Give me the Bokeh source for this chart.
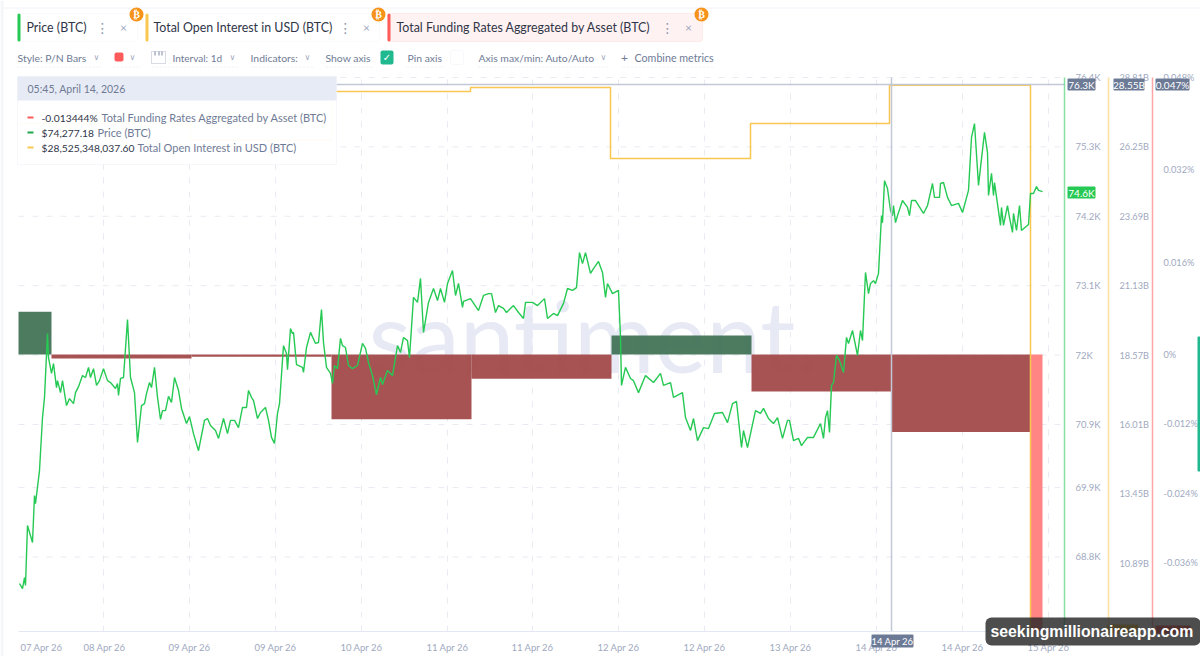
from bokeh.embed import file_html
from bokeh.models import BoxAnnotation, FixedTicker, Label, LinearAxis, Range1d
from bokeh.plotting import figure
from bokeh.resources import INLINE

# Time is counted in samples since the start of the chart (140 samples = 1 day)
price_t = [1, 4, 6, 7, 9, 14, 16, 17, 21, 24, 26, 29, 30, 33, 35, 38, 39, 42, 44, 48,
           51, 55, 57, 60, 64, 67, 70, 72, 75, 78, 81, 85, 89, 92, 97, 99, 100, 102, 105, 109,
           112, 116, 119, 123, 126, 128, 131, 133, 136, 139, 142, 144, 147, 150, 153, 156, 160, 163, 168, 171,
           175, 180, 184, 186, 189, 192, 197, 200, 205, 209, 212, 216, 220, 224, 228, 230, 233, 235, 239, 242,
           247, 250, 253, 256, 259, 261, 265, 268, 269, 272, 274, 275, 278, 284, 285, 288, 292, 297, 300, 303,
           305, 308, 312, 314, 316, 319, 322, 324, 327, 330, 334, 339, 344, 347, 350, 354, 358, 362, 364, 369,
           374, 379, 382, 385, 389, 391, 395, 399, 402, 405, 410, 415, 419, 422, 426, 429, 434, 437, 440, 444,
           445, 452, 460, 465, 470, 473, 477, 480, 485, 488, 495, 500, 505, 507, 514, 519, 526, 529, 535, 539,
           545, 549, 554, 558, 561, 564, 567, 572, 575, 580, 584, 587, 589, 594, 600, 602, 603, 607, 612, 615,
           620, 627, 635, 642, 645, 652, 655, 664, 667, 672, 675, 679, 685, 690, 696, 704, 709, 714, 718, 723,
           725, 729, 737, 742, 745, 750, 755, 759, 764, 769, 771, 775, 780, 783, 789, 795, 802, 805, 807, 809,
           811, 813, 815, 818, 821, 825, 828, 830, 834, 839, 842, 844, 847, 850, 852, 855, 857, 860, 863, 864,
           866, 869, 872, 874, 875, 877, 879, 884, 889, 891, 893, 897, 905, 909, 914, 916, 921, 922, 925, 929,
           933, 940, 944, 950, 953, 956, 960, 966, 969, 970, 973, 975, 976, 982, 983, 985, 989, 991, 994, 995,
           998, 1001, 1003, 1010, 1012, 1015, 1018, 1020, 1024]
price_usd = [68380, 68300, 68475, 68350, 69300, 69030, 69775, 69645, 70170, 71010, 71330, 72340, 71960, 71710, 71865, 71485, 71595, 71405, 71595, 71200,
             71310, 71230, 71405, 71500, 71675, 71645, 71805, 71645, 71785, 71520, 71595, 71785, 71595, 71565, 71470, 71550, 71360, 71630, 71645, 72565,
             71645, 71405, 70615, 71200, 71230, 71390, 71565, 71485, 71805, 71330, 70980, 71120, 71120, 71345, 71250, 71645, 71440, 71155, 70915, 71025,
             70755, 70485, 70805, 70965, 70995, 70885, 70805, 70680, 70995, 70755, 70965, 70965, 70850, 71170, 71170, 71440, 71330, 71280, 70995, 71090,
             71170, 70965, 70695, 70600, 71075, 71230, 72150, 72025, 71770, 72420, 72340, 72360, 71850, 71805, 71725, 72120, 72360, 72185, 72200, 72720,
             72200, 71805, 71710, 71550, 71835, 71785, 72265, 72150, 72120, 71835, 71785, 71835, 72185, 72105, 71880, 71675, 71375, 71645, 71535, 71755,
             71675, 72150, 72040, 72280, 72230, 71960, 72915, 72835, 73215, 72360, 72835, 73055, 72865, 73055, 72835, 73135, 73340, 72945, 73135, 72755,
             72850, 72895, 72705, 72945, 72975, 72975, 72675, 72785, 72740, 72675, 72785, 72675, 72580, 72835, 72835, 72785, 72895, 72580, 72660, 72625,
             72820, 73055, 73025, 73070, 73625, 73450, 73625, 73295, 73370, 73485, 73310, 72915, 73135, 72975, 73025, 72280, 71520, 71805, 71630, 71595,
             71405, 71675, 71565, 71710, 71520, 71565, 71330, 71405, 71010, 70805, 70995, 70645, 70850, 70835, 71075, 71090, 70930, 71230, 71265, 70535,
             70805, 70535, 71120, 71075, 71155, 70995, 70915, 71010, 70680, 70965, 70965, 70645, 70680, 70565, 70695, 70695, 70915, 70680, 71010, 71120,
             70775, 71520, 71565, 71995, 71915, 71725, 72280, 72185, 72390, 71995, 72390, 72230, 73310, 72975, 73135, 73180, 73135, 73295, 74210, 74100,
             74765, 74640, 74290, 74210, 74370, 74100, 74210, 74450, 74340, 74210, 74450, 74450, 74245, 74370, 74720, 74500, 74500, 74720, 74735, 74500,
             74370, 74405, 74260, 74610, 75450, 75670, 74690, 75530, 75210, 74530, 74880, 74530, 74735, 74055, 74340, 74055, 74370, 74180, 73945, 74245,
             73975, 74370, 73975, 74070, 74560, 74560, 74670, 74610, 74590]

oi_t = [0, 172, 313, 452, 592, 732, 871, 1012]
oi_busd = [27.11, 26.49, 28.29, 28.44, 25.82, 27.11, 28.525, 8.4]

funding_left = [0, 33, 173, 313, 453, 593, 733, 873]
funding_right = [33, 173, 313, 453, 593, 733, 873, 1012]
funding_pct = [0.0074, -0.0007, -0.0004, -0.0112, -0.0042, 0.0033, -0.0064, -0.013444]
funding_live_left = [1012]
funding_live_right = [1024]
funding_live_pct = [-0.048]

x_grid_ticks = [85, 171, 257, 343, 429, 514, 600, 686, 772, 858, 944, 1030]
x_tick_labels = {23: "07 Apr 26", 86: "08 Apr 26", 171: "09 Apr 26", 257: "09 Apr 26",
                 343: "10 Apr 26", 429: "11 Apr 26", 514: "11 Apr 26", 600: "12 Apr 26",
                 686: "12 Apr 26", 772: "13 Apr 26", 858: "14 Apr 26", 944: "14 Apr 26",
                 1030: "15 Apr 26"}
price_ticks = {68800: "68.8K", 69900: "69.9K", 70900: "70.9K", 72000: "72K", 73100: "73.1K",
               74200: "74.2K", 75300: "75.3K", 76400: "76.4K"}
oi_ticks = {10.89: "10.89B", 13.45: "13.45B", 16.01: "16.01B", 18.57: "18.57B", 21.13: "21.13B",
            23.69: "23.69B", 26.25: "26.25B", 28.81: "28.81B"}
funding_ticks = {-0.036: "-0.036%", -0.024: "-0.024%", -0.012: "-0.012%", 0: "0%",
                 0.016: "0.016%", 0.032: "0.032%", 0.048: "0.048%"}

GREEN, YELLOW, RED = "#26c953", "#f9c74f", "#ff5b5b"
MUTED = "#7d88a3"
AXIS_TXT = "#a0a9c0"
DARK = "#2f3548"
FONT = "Lato"

# plot area spans the page; the scales are set so that the chart occupies its usual box
T_END, P_LOW, P_HIGH = 1046, 67619, 76400
OI_LOW, OI_HIGH = 8.37, 28.81
F_LOW, F_HIGH = -0.048, 0.048

p = figure(width=1200, height=656, output_backend="svg", toolbar_location=None,
           x_range=Range1d(-18, 1182), y_range=Range1d(67223, 77620),
           x_axis_location=None, y_axis_location=None, min_border=0,
           background_fill_color="white", border_fill_color="white", outline_line_color=None)
p.grid.visible = False
p.extra_y_ranges = {"oi": Range1d(7.45, 31.65), "funding": Range1d(-0.05232, 0.06133)}


def style_axis(ax, color, size):
    ax.axis_line_color = color
    ax.axis_line_alpha = 0.55
    ax.axis_line_width = 1.5
    ax.major_tick_line_color = None
    ax.minor_tick_line_color = None
    ax.major_label_text_color = AXIS_TXT
    ax.major_label_text_font = FONT
    ax.major_label_text_font_size = size
    ax.major_label_standoff = 5


a_price = LinearAxis(ticker=FixedTicker(ticks=list(price_ticks)), major_label_overrides=price_ticks,
                     fixed_location=T_END, bounds=(P_LOW, P_HIGH))
style_axis(a_price, GREEN, "9.5px")
a_oi = LinearAxis(y_range_name="oi", ticker=FixedTicker(ticks=list(oi_ticks)), major_label_overrides=oi_ticks,
                  fixed_location=T_END + 44, bounds=(OI_LOW, OI_HIGH))
style_axis(a_oi, YELLOW, "9.2px")
a_f = LinearAxis(y_range_name="funding", ticker=FixedTicker(ticks=list(funding_ticks)), major_label_overrides=funding_ticks,
                 fixed_location=T_END + 88, bounds=(F_LOW, F_HIGH))
style_axis(a_f, RED, "9.2px")
p.add_layout(a_price, "right")
p.add_layout(a_oi, "right")
p.add_layout(a_f, "right")

a_x = LinearAxis(ticker=FixedTicker(ticks=list(x_tick_labels)), major_label_overrides=x_tick_labels,
                 fixed_location=P_LOW, bounds=(0, T_END))
a_x.axis_line_color = "#e3e7f1"
a_x.major_tick_line_color = None
a_x.minor_tick_line_color = None
a_x.major_label_text_color = AXIS_TXT
a_x.major_label_text_font = FONT
a_x.major_label_text_font_size = "9.5px"
a_x.major_label_standoff = 4
p.add_layout(a_x, "below")

GRID = dict(line_color="#e9ebf2", line_dash="6 8", level="underlay")
p.segment(x_grid_ticks, [P_LOW] * len(x_grid_ticks), x_grid_ticks, [P_HIGH] * len(x_grid_ticks), **GRID)
ys = list(price_ticks)
p.segment([0] * len(ys), ys, [T_END] * len(ys), ys, **GRID)


def box(l, t, r, b, fill=None, line=None, alpha=1.0, radius=0, lw=1, dash="solid", level="overlay"):
    p.add_layout(BoxAnnotation(left=l, right=r, top=t, bottom=b,
                               left_units="canvas", right_units="canvas", top_units="canvas", bottom_units="canvas",
                               fill_color=fill, fill_alpha=alpha if fill else 0, line_color=line,
                               line_width=lw, line_dash=dash, border_radius=radius, level=level))


def txt(x, y, s, color=MUTED, size=12, font=FONT, style="normal", align="left", level="overlay"):
    p.add_layout(Label(x=x, y=y, text=s, x_units="canvas", y_units="canvas", text_color=color,
                       text_font=font, text_font_size=f"{size}px", text_font_style=style,
                       text_align=align, text_baseline="middle", level=level))


# big watermark beneath the marks
txt(368, 334, "santiment.", color="#e7eaf4", size=98, level="underlay")

# marks
p.quad(left=[l for l, v in zip(funding_left, funding_pct) if v < 0],
       right=[r for r, v in zip(funding_right, funding_pct) if v < 0],
       top=[0 for v in funding_pct if v < 0], bottom=[v for v in funding_pct if v < 0],
       y_range_name="funding", fill_color="#9f4040", fill_alpha=0.9, line_color=None)
p.quad(left=[l for l, v in zip(funding_left, funding_pct) if v > 0],
       right=[r for r, v in zip(funding_right, funding_pct) if v > 0],
       top=[v for v in funding_pct if v > 0], bottom=[0 for v in funding_pct if v > 0],
       y_range_name="funding", fill_color="#3e7052", fill_alpha=0.92, line_color=None)
p.quad(left=funding_live_left, right=funding_live_right, top=[0], bottom=funding_live_pct,
       y_range_name="funding", fill_color="#ff8484", line_color=None)
p.step(oi_t, oi_busd, mode="after", y_range_name="oi", line_color=YELLOW, line_width=1.5)
p.line(price_t, price_usd, line_color=GREEN, line_width=1.4)

# crosshair
p.segment([873], [P_LOW], [873], [P_HIGH], line_color="#c3c8d6", line_width=1.5)
p.segment([0], [76290], [T_END], [76290], line_color="#c3c8d6", line_width=1.5)

# page edges
box(0, 0, 3, 656, fill="#f4f6fa")
box(3, 7, 1200, 8, fill="#f0f2f7")
box(1197, 336, 1200, 471, fill="#1fb88f", radius=1)

# metric cards
for l, r, accent, bg, border, name, tx, dot, close in [
    (17, 137, GREEN, "white", "#eef0f6", "Price (BTC)", 26, 102, 123),
    (145, 379, YELLOW, "white", "#eef0f6", "Total Open Interest in USD (BTC)", 153, 345, 366),
    (387, 702, RED, "#fff2f2", "#fbcaca", "Total Funding Rates Aggregated by Asset (BTC)", 396, 667, 688),
]:
    box(l, 13, r, 41, fill=bg, line=border, radius=3)
    box(l, 13, l + 3, 41, fill=accent, radius=2)
    txt(tx, 27, name, color=DARK, size=12.4)
    txt(dot, 27, "⋮", color="#8d96ad", size=14, font="DejaVu Sans", align="center")
    txt(close, 27, "×", color="#a0a9c0", size=12, align="center")
    box(r - 8, 7, r + 6, 21, fill="#f7931a", radius=7)
    txt(r - 1, 14, "₿", color="white", size=10, font="DejaVu Sans", style="bold", align="center")

# controls row
CTRL = "#6f7b96"
CS = 10.4
CH = dict(color="#a0a9c0", size=8, font="DejaVu Sans", align="center")
txt(17, 57, "Style: P/N Bars", color=CTRL, size=CS)
txt(96, 57, "∨", **CH)
box(114, 52, 123, 61, fill=RED, radius=2)
txt(132, 57, "∨", **CH)
box(151, 51, 165, 63, line="#7d88a3")
box(154, 51, 155, 55, fill="#7d88a3")
box(158, 51, 159, 55, fill="#7d88a3")
box(161, 51, 162, 55, fill="#7d88a3")
txt(172, 57, "Interval: 1d", color=CTRL, size=10)
txt(232, 57, "∨", **CH)
txt(250, 57, "Indicators:", color=CTRL, size=CS)
txt(307, 57, "∨", **CH)
txt(325, 57, "Show axis", color=CTRL, size=CS)
box(380, 50, 393, 64, fill="#1fb88f", radius=2)
txt(386.5, 57, "✓", color="white", size=10, font="DejaVu Sans", align="center")
txt(407, 57, "Pin axis", color=CTRL, size=CS)
box(450, 50, 463, 64, fill="white", line="#e3e7f1", radius=2)
txt(478, 57, "Axis max/min: Auto/Auto", color=CTRL, size=CS)
txt(603, 57, "∨", **CH)
txt(624, 57, "+", color=CTRL, size=12, align="center")
txt(634, 57, "Combine metrics", color=CTRL, size=10.7)
for l, r in [(17, 101), (113, 139), (151, 238), (250, 313), (325, 372), (407, 443), (478, 608), (622, 713)]:
    box(l, 66, r, 67, line="#dfe3ec", dash="2 2")

# tooltip card
box(17, 76, 336, 164, fill="white", line="#dfe3ee", alpha=0.95)
box(17, 76, 336, 100, fill="#e7ebf5")
txt(27, 88, "05:45, April 14, 2026", color="#6f7b96", size=10.5)
for y, col, val, name, nx in [
    (117, RED, "-0.013444%", "Total Funding Rates Aggregated by Asset (BTC)", 101),
    (132, "#1fa84a", "$74,277.18", "Price (BTC)", 97),
    (147, YELLOW, "$28,525,348,037.60", "Total Open Interest in USD (BTC)", 137),
]:
    box(27, y - 1, 33, y + 1, fill=col)
    txt(41, y, val, color=DARK, size=10.3)
    txt(nx, y, name, color="#6f7b96", size=11)

# axis tags
TAG = "#6c7a96"
for l, r, s in [(1067, 1095, "76.3K"), (1113, 1144, "28.55B"), (1155, 1189, "0.047%")]:
    box(l, 78, r, 90, fill=TAG, radius=1)
    txt((l + r) / 2, 84, s, color="white", size=10, align="center")
box(1067, 186, 1095, 198, fill=GREEN, radius=1)
txt(1081, 192, "74.6K", color="white", size=10, align="center")
box(871, 634, 913, 647, fill=TAG, radius=1)
txt(892, 640.5, "14 Apr 26", color="white", size=9.5, align="center")
box(1107, 624, 1138, 633, fill=YELLOW)
box(1155, 625, 1190, 633, fill=RED)

# site watermark
box(985, 617, 1200, 645, fill="#262626", alpha=0.82, radius=6)
txt(990, 631, "seekingmillionaireapp.com", color="white", size=15.8, font="Liberation Sans", style="bold")

open("out.html", "w").write(file_html(p, INLINE))
